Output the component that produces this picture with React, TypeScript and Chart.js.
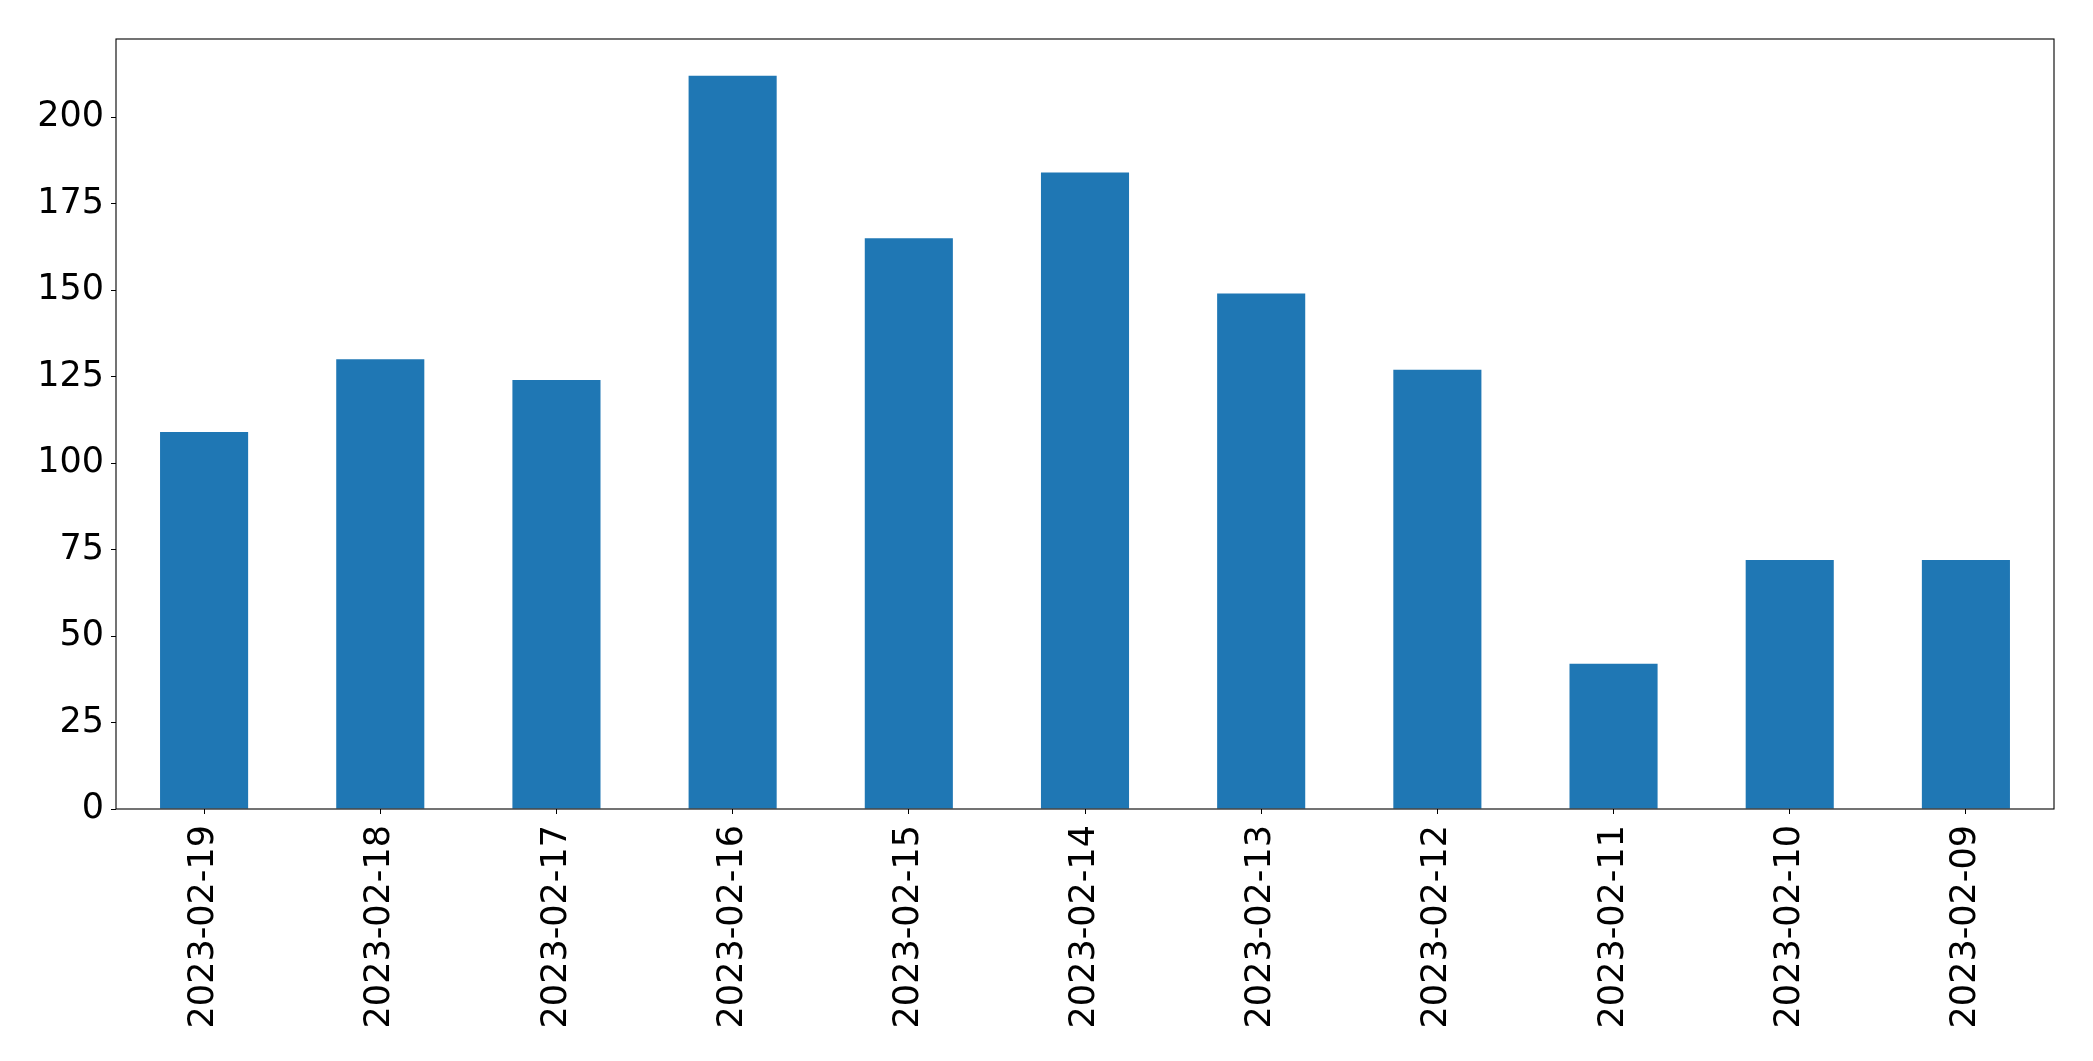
import React, { useEffect, useRef } from "react";
import { Chart, registerables } from "chart.js";

Chart.register(...registerables);

const categories = [
  "2023-02-19",
  "2023-02-18",
  "2023-02-17",
  "2023-02-16",
  "2023-02-15",
  "2023-02-14",
  "2023-02-13",
  "2023-02-12",
  "2023-02-11",
  "2023-02-10",
  "2023-02-09",
];
const counts = [109, 130, 124, 212, 165, 184, 149, 127, 42, 72, 72];
const yTickStep = 25;
const yMax = 222.6;

const W = 2093;
const H = 1061;

const frame = {
  id: "frame",
  afterDatasetsDraw(chart: any) {
    const { ctx, chartArea } = chart;
    ctx.save();
    ctx.strokeStyle = "#000";
    ctx.lineWidth = 1.1;
    ctx.strokeRect(
      chartArea.left,
      chartArea.top,
      chartArea.right - chartArea.left,
      chartArea.bottom - chartArea.top
    );
    ctx.restore();
  },
};

export default function App() {
  const ref = useRef<HTMLCanvasElement | null>(null);

  useEffect(() => {
    if (!ref.current) return;
    const font = { family: "'DejaVu Sans', sans-serif", size: 35 };
    const chart = new Chart(ref.current, {
      type: "bar",
      data: {
        labels: categories,
        datasets: [
          {
            data: counts,
            backgroundColor: "#1f77b4",
            borderWidth: 0,
            barPercentage: 0.5,
            categoryPercentage: 1,
          },
        ],
      },
      options: {
        responsive: false,
        animation: false,
        devicePixelRatio: 1,
        layout: { padding: { left: 0, top: 39, right: 39, bottom: 0 } },
        plugins: {
          legend: { display: false },
          tooltip: { enabled: false },
        },
        scales: {
          x: {
            type: "category",
            offset: true,
            grid: {
              offset: false,
              drawOnChartArea: false,
              drawTicks: true,
              tickLength: 5,
              color: "#000",
              lineWidth: 1,
            },
            border: { display: false },
            ticks: {
              color: "#000",
              font,
              padding: 11,
              maxRotation: 90,
              minRotation: 90,
              autoSkip: false,
            },
            afterFit(scale: any) {
              scale.height = 252;
            },
          },
          y: {
            min: 0,
            max: yMax,
            grid: {
              drawOnChartArea: false,
              drawTicks: true,
              tickLength: 5,
              color: "#000",
              lineWidth: 1,
            },
            border: { display: false },
            ticks: {
              stepSize: yTickStep,
              includeBounds: false,
              color: "#000",
              font,
              padding: 7,
            },
            afterFit(scale: any) {
              scale.width = 116;
            },
          },
        },
      },
      plugins: [frame],
    });
    return () => chart.destroy();
  }, []);

  return (
    <div style={{ position: "absolute", left: 0, top: 0, width: W, height: H, background: "#fff" }}>
      <canvas ref={ref} width={W} height={H} style={{ width: W, height: H }} />
    </div>
  );
}
